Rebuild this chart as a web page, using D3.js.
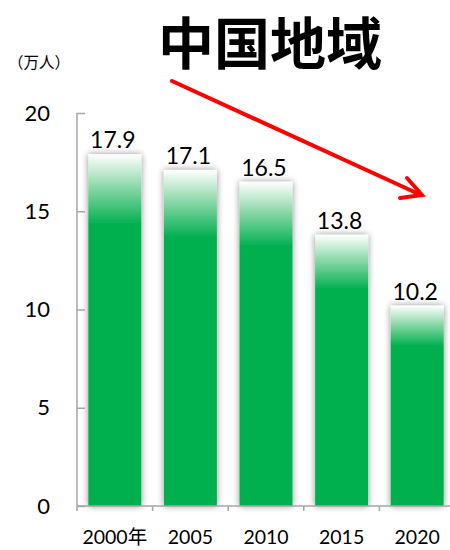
<!DOCTYPE html>
<html><head><meta charset="utf-8">
<script src="https://cdn.jsdelivr.net/npm/d3@7"></script>
<style>body{margin:0;background:#fff}svg{display:block}</style>
</head><body>
<script>
const categories = ["2000年", "2005", "2010", "2015", "2020"];
const values = [17.9, 17.1, 16.5, 13.8, 10.2];
const yTicks = [0, 5, 10, 15, 20];
const title = "中国地域";
const unitLabel = "（万人）";

const W = 450, H = 550;
const svg = d3.select("body").append("svg").attr("width", W).attr("height", H);
const defs = svg.append("defs");
const grad = defs.append("linearGradient").attr("id", "barGrad")
  .attr("x1", 0).attr("y1", 0).attr("x2", 0).attr("y2", 1);
grad.append("stop").attr("offset", "0%").attr("stop-color", "#ffffff");
grad.append("stop").attr("offset", "9%").attr("stop-color", "#8fd9ab");
grad.append("stop").attr("offset", "20%").attr("stop-color", "#00B050");
grad.append("stop").attr("offset", "100%").attr("stop-color", "#00B050");
const f = defs.append("filter").attr("id", "shadow").attr("x", "-30%").attr("y", "-10%").attr("width", "160%").attr("height", "120%");
f.append("feGaussianBlur").attr("in", "SourceAlpha").attr("stdDeviation", 3.5).attr("result", "b");
f.append("feComponentTransfer").attr("in", "b").attr("result", "s")
  .append("feFuncA").attr("type", "linear").attr("slope", 0.45);
const fm = f.append("feMerge");
fm.append("feMergeNode").attr("in", "s");
fm.append("feMergeNode").attr("in", "SourceGraphic");

const x = d3.scaleBand().domain(categories).range([77, 455]).paddingInner(0.3).paddingOuter(0.15);
const y = d3.scaleLinear().domain([0, 20]).range([506, 113]);

// bars
svg.append("g").selectAll("rect").data(values).join("rect")
  .attr("x", (d, i) => x(categories[i]))
  .attr("width", x.bandwidth())
  .attr("y", d => y(d))
  .attr("height", d => y(0) - y(d))
  .attr("fill", "url(#barGrad)")
  .attr("filter", "url(#shadow)");

// value labels
svg.append("g").selectAll("text").data(values).join("text")
  .attr("x", (d, i) => x(categories[i]) + x.bandwidth() / 2 - 2)
  .attr("y", d => y(d) - 6)
  .attr("text-anchor", "middle")
  .attr("font-family", "Lato, 'Open Sans', sans-serif")
  .attr("font-size", 23)
  .attr("fill", "#000")
  .text(d => d.toFixed(1));

// y axis
const yAxis = d3.axisLeft(y).tickValues(yTicks).tickSize(-8).tickPadding(27).tickFormat(d3.format("d"));
const gy = svg.append("g").attr("transform", "translate(77,0)").call(yAxis);
gy.select(".domain").attr("stroke", "#a6a6a6").attr("stroke-width", 1.5).attr("d", `M0,${y(20)}V${y(0)}`);
gy.selectAll(".tick line").attr("stroke", "#a6a6a6").attr("stroke-width", 1.5);
gy.selectAll(".tick text").attr("font-family", "Lato, 'Open Sans', sans-serif").attr("font-size", 22).attr("fill", "#000");

// x axis
const xTickPos = d3.range(categories.length + 1).map(i => x.range()[0] + i * x.step());
const gx = svg.append("g");
gx.append("line").attr("x1", 77).attr("x2", 455).attr("y1", y(0)).attr("y2", y(0))
  .attr("stroke", "#a6a6a6").attr("stroke-width", 1.5);
gx.selectAll("line.t").data(xTickPos).join("line").attr("class", "t")
  .attr("x1", d => d).attr("x2", d => d).attr("y1", y(0)).attr("y2", y(0) + 5)
  .attr("stroke", "#a6a6a6").attr("stroke-width", 1.5);
gx.selectAll("text").data(categories).join("text")
  .attr("x", d => x(d) + x.bandwidth() / 2)
  .attr("y", 544)
  .attr("text-anchor", "middle")
  .attr("font-family", "Lato, 'Noto Sans CJK JP', sans-serif")
  .attr("font-size", 19.5)
  .attr("fill", "#000")
  .text(d => d);

// unit label
svg.append("text").attr("x", 8).attr("y", 68)
  .attr("font-family", "'Noto Sans CJK JP', sans-serif").attr("font-size", 15.5)
  .text(unitLabel);

// title
svg.append("text").attr("x", 270).attr("y", 39)
  .attr("text-anchor", "middle").attr("dominant-baseline", "central")
  .attr("font-family", "'Noto Sans CJK JP', sans-serif").attr("font-weight", "bold")
  .attr("font-size", 56).attr("fill", "#000")
  .text(title);

// red arrow
const arrow = svg.append("g").attr("stroke", "red").attr("stroke-width", 4).attr("fill", "none").attr("stroke-linecap", "round");
arrow.append("line").attr("x1", 172).attr("y1", 81).attr("x2", 421).attr("y2", 195);
arrow.append("path").attr("d", "M407,178 L422,195 L400,198");
</script>
</body></html>
